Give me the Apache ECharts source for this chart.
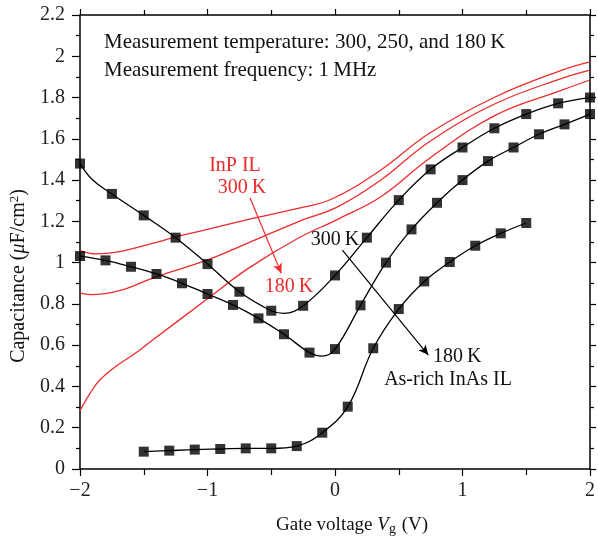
<!DOCTYPE html>
<html>
<head>
<meta charset="utf-8">
<script src="https://cdn.jsdelivr.net/npm/echarts@6/dist/echarts.min.js"></script>
<style>
html, body { margin: 0; padding: 0; background: #fff; }
#main { width: 598px; height: 540px; }
</style>
</head>
<body>
<div id="main"></div>
<script>
// As-rich InAs IL, black curves with square markers
var vg300 = [-2, -1.75, -1.5, -1.25, -1, -0.75, -0.5, -0.25, 0, 0.25, 0.5, 0.75, 1, 1.25, 1.5, 1.75, 2];
var cap300 = [1.48, 1.333, 1.229, 1.121, 0.993, 0.859, 0.767, 0.791, 0.938, 1.121, 1.303, 1.452, 1.558, 1.651, 1.72, 1.772, 1.80];
var extra300 = [[-1.9, 1.40], [-0.4, 0.754]];

var vg250 = [-2, -1.8, -1.6, -1.4, -1.2, -1, -0.8, -0.6, -0.4, -0.2, 0, 0.2, 0.4, 0.6, 0.8, 1, 1.2, 1.4, 1.6, 1.8, 2];
var cap250 = [1.032, 1.011, 0.98, 0.945, 0.90, 0.848, 0.795, 0.73, 0.653, 0.564, 0.581, 0.793, 1.0, 1.161, 1.29, 1.40, 1.492, 1.558, 1.622, 1.67, 1.72];
var extra250 = [[-0.1, 0.547]];

var vg180 = [-1.5, -1.3, -1.1, -0.9, -0.7, -0.5, -0.3, -0.1, 0.1, 0.3, 0.5, 0.7, 0.9, 1.1, 1.3, 1.5];
var cap180 = [0.084, 0.089, 0.094, 0.097, 0.100, 0.100, 0.111, 0.176, 0.302, 0.585, 0.775, 0.909, 1.003, 1.082, 1.142, 1.192];

// InP IL, red curves (no markers)
var inpVg300 = [-2, -1.87, -1.69, -1.43, -1.25, -1, -0.68, -0.29, -0.03, 0.36, 0.74, 1.26, 1.78, 2];
var inpCap300 = [1.058, 1.042, 1.053, 1.093, 1.125, 1.161, 1.21, 1.263, 1.307, 1.449, 1.627, 1.804, 1.933, 1.973];
var inpVg250 = [-2, -1.92, -1.69, -1.4, -1, -0.68, -0.29, 0.02, 0.36, 0.74, 1.26, 1.78, 2];
var inpCap250 = [0.852, 0.845, 0.864, 0.932, 1.013, 1.096, 1.198, 1.27, 1.40, 1.586, 1.771, 1.893, 1.933];
var inpVg180 = [-2, -1.92, -1.845, -1.72, -1.586, -1.43, -1, -0.68, -0.29, 0.02, 0.36, 0.74, 1.26, 1.78, 2];
var inpCap180 = [0.283, 0.368, 0.431, 0.497, 0.552, 0.625, 0.825, 0.972, 1.118, 1.21, 1.319, 1.505, 1.715, 1.836, 1.885];

var xTicks = [-2, -1, 0, 1, 2];
var yTicks = [0, 0.2, 0.4, 0.6, 0.8, 1, 1.2, 1.4, 1.6, 1.8, 2, 2.2];

var FONT = 'Liberation Serif';
var RED = '#ee2a2a';
var F = '20px "' + FONT + '"';

function pairs(xs, ys) {
  return xs.map(function (x, i) { return [x, ys[i]]; });
}
function curve(xs, ys, extra) {
  return pairs(xs, ys).concat(extra || []).sort(function (a, b) { return a[0] - b[0]; });
}

var myChart = echarts.init(document.getElementById('main'));

function redLine(xs, ys, mark) {
  var s = {
    type: 'line',
    data: pairs(xs, ys),
    smooth: 0.4,
    showSymbol: false,
    lineStyle: { color: RED, width: 1.3 },
    z: 2
  };
  if (mark) s.markLine = mark;
  return s;
}
function blackLine(data, mark) {
  var s = {
    type: 'line',
    data: data,
    smooth: 0.4,
    showSymbol: false,
    lineStyle: { color: '#000', width: 1.3 },
    z: 3
  };
  if (mark) s.markLine = mark;
  return s;
}
function squares(xs, ys) {
  return {
    type: 'scatter',
    data: pairs(xs, ys),
    symbol: 'rect',
    symbolSize: 10,
    itemStyle: { color: '#000' },
    z: 4
  };
}
function arrow(from, to, color) {
  return {
    silent: true,
    symbol: ['none', 'arrow'],
    symbolSize: [7, 10],
    label: { show: false },
    lineStyle: { color: color, width: 1.2, type: 'solid' },
    data: [[{ coord: from }, { coord: to }]]
  };
}

var minus = function (v) { return String(v).replace('-', '\u2212'); };
var axisLine = { show: true, onZero: false, lineStyle: { color: '#000', width: 1.5 } };

option = {
  animation: false,
  backgroundColor: '#fff',
  textStyle: { fontFamily: FONT, color: '#000' },
  grid: { left: 80, right: 3, top: 15, bottom: 71 },
  xAxis: [
    {
      type: 'value', min: -2, max: 2, interval: 1,
      axisLine: axisLine,
      axisTick: { inside: false, length: 7, lineStyle: { color: '#000', width: 1.2 } },
      minorTick: { show: true, splitNumber: 2, length: 6, lineStyle: { color: '#000', width: 1.2 } },
      splitLine: { show: false },
      axisLabel: { margin: 12, fontSize: 20, fontFamily: FONT, color: '#222', formatter: minus,
        customValues: xTicks }
    },
    {
      type: 'value', position: 'top', min: -2, max: 2, interval: 1,
      axisLine: axisLine,
      axisTick: { inside: false, length: 6, lineStyle: { color: '#000', width: 1.2 } },
      minorTick: { show: true, splitNumber: 2, length: 5, lineStyle: { color: '#000', width: 1.2 } },
      splitLine: { show: false },
      axisLabel: { show: false }
    }
  ],
  yAxis: [
    {
      type: 'value', min: 0, max: 2.2, interval: 0.2,
      axisLine: axisLine,
      axisTick: { inside: false, length: 8, lineStyle: { color: '#000', width: 1.2 } },
      minorTick: { show: true, splitNumber: 2, length: 4, lineStyle: { color: '#000', width: 1.2 } },
      splitLine: { show: false },
      axisLabel: { margin: 15, fontSize: 20, fontFamily: FONT, color: '#222',
        customValues: yTicks }
    },
    {
      type: 'value', position: 'right', min: 0, max: 2.2, interval: 0.2,
      axisLine: axisLine,
      axisTick: { inside: false, length: 6, lineStyle: { color: '#000', width: 1.2 } },
      minorTick: { show: true, splitNumber: 2, length: 4, lineStyle: { color: '#000', width: 1.2 } },
      splitLine: { show: false },
      axisLabel: { show: false }
    }
  ],
  graphic: [
    { type: 'text', x: 104, y: 42, style: { text: 'Measurement temperature: 300, 250, and 180\u2009K',
      font: '21px "' + FONT + '"', fill: '#111', align: 'left', verticalAlign: 'middle' } },
    { type: 'text', x: 104, y: 70, style: { text: 'Measurement frequency: 1\u2009MHz',
      font: '21px "' + FONT + '"', fill: '#111', align: 'left', verticalAlign: 'middle' } },
    { type: 'text', x: 235, y: 166, style: { text: 'InP IL', font: F, fill: RED,
      align: 'center', verticalAlign: 'middle' } },
    { type: 'text', x: 242, y: 188, style: { text: '300\u2009K', font: F, fill: RED,
      align: 'center', verticalAlign: 'middle' } },
    { type: 'text', x: 289, y: 287, style: { text: '180\u2009K', font: F, fill: RED,
      align: 'center', verticalAlign: 'middle' } },
    { type: 'text', x: 335, y: 240, style: { text: '300\u2009K', font: F, fill: '#111',
      align: 'center', verticalAlign: 'middle' } },
    { type: 'text', x: 433, y: 357, style: { text: '180\u2009K', font: F, fill: '#111',
      align: 'left', verticalAlign: 'middle' } },
    { type: 'text', x: 448, y: 380, style: { text: 'As-rich InAs IL', font: F, fill: '#111',
      align: 'center', verticalAlign: 'middle' } },
    { type: 'text', x: 19, y: 276, rotation: Math.PI / 2,
      style: { text: 'Capacitance ({i|\u03bc}F/cm{s|2})', font: F, fill: '#111',
        align: 'center', verticalAlign: 'middle',
        rich: {
          i: { fontStyle: 'italic', fontSize: 20, fontFamily: FONT },
          s: { fontSize: 13, fontFamily: FONT, padding: [0, 0, 9, 0] }
        } } },
    { type: 'text', x: 352, y: 525,
      style: { text: 'Gate voltage {i|V}{s|g} (V)', font: '19px "' + FONT + '"', fill: '#111',
        align: 'center', verticalAlign: 'middle',
        rich: {
          i: { fontStyle: 'italic', fontSize: 19, fontFamily: FONT },
          s: { fontSize: 14, fontFamily: FONT, padding: [8, 1, 0, 0] }
        } } }
  ],
  series: [
    redLine(inpVg300, inpCap300, arrow([-0.666, 1.313], [-0.421, 0.948], RED)),
    redLine(inpVg250, inpCap250),
    redLine(inpVg180, inpCap180),
    blackLine(curve(vg300, cap300, extra300), arrow([0.058, 1.061], [0.732, 0.552], '#000')),
    blackLine(curve(vg250, cap250, extra250)),
    blackLine(curve(vg180, cap180)),
    squares(vg300, cap300),
    squares(vg250, cap250),
    squares(vg180, cap180)
  ]
};

myChart.setOption(option);
window.onresize = function () {
  myChart.resize();
};
</script>
</body>
</html>
